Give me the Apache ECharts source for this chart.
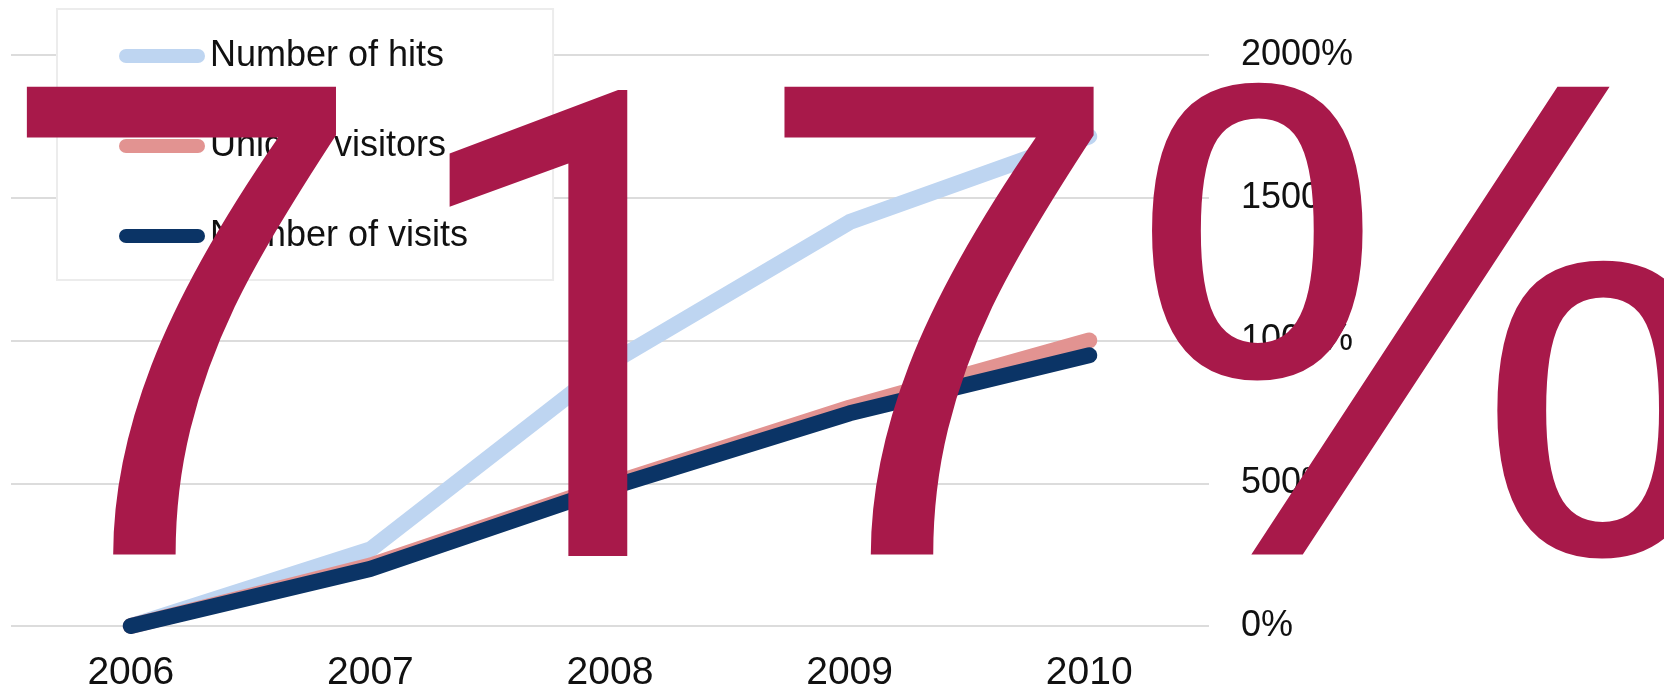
<!DOCTYPE html>
<html>
<head>
<meta charset="utf-8">
<script src="https://cdn.jsdelivr.net/npm/echarts@6/dist/echarts.min.js"></script>
<style>
html,body{margin:0;padding:0;background:#fff;}
#chart{width:1664px;height:693px;}
</style>
</head>
<body>
<div id="chart"></div>
<script>
const categories = ['2006', '2007', '2008', '2009', '2010'];
const numberOfHits = [0, 268, 920, 1415, 1715];
const uniqueVisitors = [0, 212, 495, 765, 1000];
const numberOfVisits = [0, 200, 485, 745, 948];
const yTicks = [0, 500, 1000, 1500, 2000];
const seriesNames = ['Number of hits', 'Unique visitors', 'Number of visits'];
const bigLabel = '717%';

const FONT = "'Liberation Sans', Arial, sans-serif";
const chart = echarts.init(document.getElementById('chart'), null, {renderer: 'canvas'});
const pill = 'path://M7,0 H79 A7,7 0 0 1 79,14 H7 A7,7 0 0 1 7,0 Z';

function lineSeries(name, data, color) {
  return {
    name: name, type: 'line', data: data, showSymbol: false, symbol: 'none',
    lineStyle: {color: color, width: 16, cap: 'round', join: 'round'},
    itemStyle: {color: color},
    silent: true, animation: false
  };
}

// big label: the digit "1" is set in a footless sans so it matches the reference glyph
const bigRich = bigLabel.split('').map(function (ch) {
  return (ch === '1' ? '{one|' : '{base|') + ch + '}';
}).join('');

chart.setOption({
  animation: false,
  backgroundColor: '#ffffff',
  textStyle: {fontFamily: FONT},
  grid: {left: 11, right: 455, top: 55, bottom: 64},
  legend: {
    orient: 'vertical', left: 57, top: 9,
    padding: [27, 85, 24, 62],
    borderColor: '#ececec', borderWidth: 2, backgroundColor: '#ffffff',
    itemWidth: 86, itemHeight: 14, itemGap: 50,
    icon: pill,
    itemStyle: {borderWidth: 0},
    textStyle: {fontSize: 36, color: '#111', fontFamily: FONT, lineHeight: 40},
    data: seriesNames
  },
  xAxis: {
    type: 'category', data: categories, boundaryGap: true,
    axisLine: {show: false}, axisTick: {show: false},
    axisLabel: {fontSize: 39, color: '#111', margin: 28, fontFamily: FONT}
  },
  yAxis: {
    type: 'value', position: 'right', min: yTicks[0], max: yTicks[yTicks.length - 1], interval: yTicks[1] - yTicks[0],
    axisLine: {show: false}, axisTick: {show: false},
    axisLabel: {fontSize: 36, color: '#111', margin: 32, fontFamily: FONT, formatter: function (v) { return v + '%'; }},
    splitLine: {lineStyle: {color: '#dcdcdc', width: 2}}
  },
  series: [
    lineSeries(seriesNames[0], numberOfHits, '#bed5f1'),
    lineSeries(seriesNames[1], uniqueVisitors, '#e29391'),
    lineSeries(seriesNames[2], numberOfVisits, '#0b3466')
  ],
  graphic: [{
    type: 'text', left: -8, top: 15, z: 100, silent: true,
    style: {
      text: bigRich, fill: '#a8194a', fontSize: 680, fontFamily: 'Liberation Sans', lineHeight: 680,
      rich: {
        base: {fontSize: 680, fontFamily: 'Liberation Sans', fill: '#a8194a', lineHeight: 680},
        one: {fontSize: 652, fontFamily: 'Roboto', fill: '#a8194a', lineHeight: 680, padding: [52, -12, 0, 25]}
      }
    }
  }]
});
</script>
</body>
</html>
